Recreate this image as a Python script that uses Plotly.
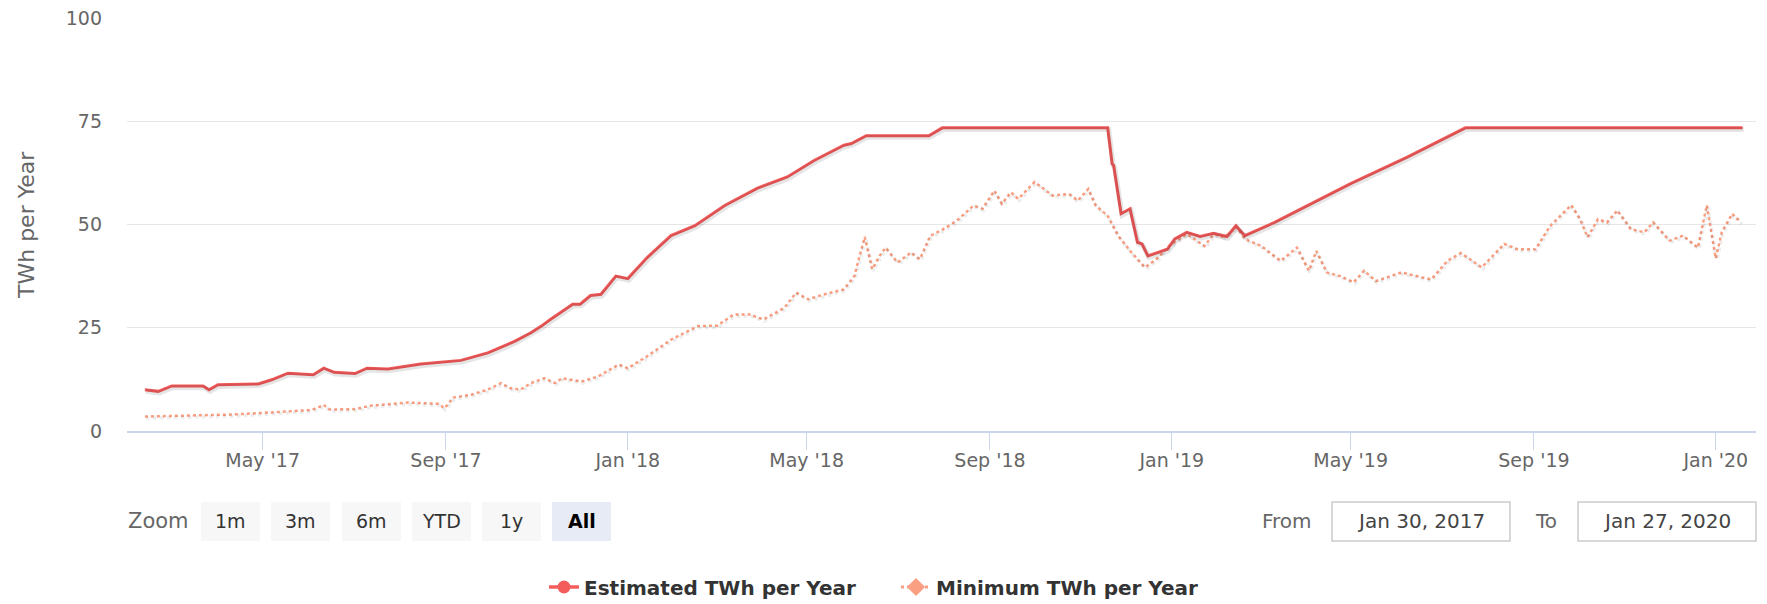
import plotly.graph_objects as go

# ---- data -------------------------------------------------------------
est_dates = [
    "2017-02-11", "2017-02-20", "2017-03-01", "2017-03-22", "2017-03-26", "2017-04-01",
    "2017-04-28", "2017-05-07", "2017-05-18", "2017-06-04", "2017-06-11", "2017-06-18",
    "2017-07-02", "2017-07-10", "2017-07-24", "2017-08-15", "2017-09-11", "2017-09-29",
    "2017-10-17", "2017-10-28", "2017-11-04", "2017-11-10", "2017-11-25", "2017-11-30",
    "2017-12-07", "2017-12-14", "2017-12-24", "2018-01-01", "2018-01-14", "2018-01-30",
    "2018-02-15", "2018-03-07", "2018-03-29", "2018-04-18", "2018-05-06", "2018-05-26",
    "2018-05-31", "2018-06-10", "2018-07-22", "2018-07-31", "2018-11-19", "2018-11-22",
    "2018-11-23", "2018-11-28", "2018-12-04", "2018-12-09", "2018-12-12", "2018-12-16",
    "2018-12-29", "2019-01-03", "2019-01-11", "2019-01-20", "2019-01-29", "2019-02-07",
    "2019-02-13", "2019-02-19", "2019-03-11", "2019-04-02", "2019-04-24", "2019-05-01",
    "2019-06-08", "2019-07-17", "2020-01-19",
]
est_values = [
    10.0, 9.6, 10.9, 10.9, 10.0, 11.2,
    11.4, 12.4, 14.0, 13.6, 15.2, 14.2,
    13.9, 15.2, 15.0, 16.2, 17.1, 18.9,
    21.7, 23.8, 25.4, 27.0, 30.7, 30.7,
    32.8, 33.1, 37.5, 36.9, 42.0, 47.3,
    49.7, 54.6, 58.8, 61.5, 65.5, 69.2,
    69.6, 71.5, 71.5, 73.4, 73.4, 64.7,
    64.3, 52.6, 53.8, 45.7, 45.3, 42.4,
    44.0, 46.5, 48.1, 47.1, 47.9, 47.1,
    49.7, 47.3, 50.5, 54.6, 58.6, 59.9,
    66.3, 73.4, 73.4,
]

min_dates = [
    "2017-02-11", "2017-03-12", "2017-04-11", "2017-05-07", "2017-05-26", "2017-06-03",
    "2017-06-11", "2017-06-15", "2017-07-02", "2017-07-12", "2017-08-06", "2017-08-27",
    "2017-08-31", "2017-09-06", "2017-09-18", "2017-09-29", "2017-10-08", "2017-10-14",
    "2017-10-21", "2017-10-28", "2017-11-06", "2017-11-13", "2017-11-18", "2017-12-01",
    "2017-12-12", "2017-12-26", "2018-01-01", "2018-01-14", "2018-01-30", "2018-02-17",
    "2018-03-02", "2018-03-13", "2018-03-24", "2018-04-02", "2018-04-16", "2018-04-24",
    "2018-05-02", "2018-05-13", "2018-05-26", "2018-06-02", "2018-06-09", "2018-06-14",
    "2018-06-19", "2018-06-23", "2018-07-01", "2018-07-10", "2018-07-16", "2018-07-23",
    "2018-07-30", "2018-08-10", "2018-08-21", "2018-08-27", "2018-09-04", "2018-09-09",
    "2018-09-15", "2018-09-20", "2018-10-01", "2018-10-13", "2018-10-24", "2018-10-30",
    "2018-11-06", "2018-11-11", "2018-11-19", "2018-11-26", "2018-12-05", "2018-12-14",
    "2018-12-23", "2018-12-30", "2019-01-11", "2019-01-23", "2019-01-29", "2019-02-05",
    "2019-02-14", "2019-02-19", "2019-03-02", "2019-03-15", "2019-03-26", "2019-04-03",
    "2019-04-08", "2019-04-15", "2019-04-24", "2019-05-03", "2019-05-10", "2019-05-18",
    "2019-06-04", "2019-06-24", "2019-07-05", "2019-07-14", "2019-07-28", "2019-08-12",
    "2019-08-21", "2019-09-02", "2019-09-12", "2019-09-26", "2019-10-02", "2019-10-07",
    "2019-10-14", "2019-10-20", "2019-10-27", "2019-11-05", "2019-11-14", "2019-11-20",
    "2019-12-01", "2019-12-10", "2019-12-20", "2019-12-26", "2019-12-29", "2020-01-01",
    "2020-01-05", "2020-01-12", "2020-01-18",
]
min_values = [
    3.5, 3.7, 4.0, 4.5, 4.8, 5.1,
    6.3, 5.2, 5.3, 6.1, 6.9, 6.6,
    5.5, 8.1, 8.8, 10.0, 11.6, 10.4,
    10.0, 11.6, 12.8, 11.6, 12.8, 12.0,
    13.2, 16.1, 15.2, 18.1, 22.1, 25.4,
    25.5, 28.2, 28.2, 27.0, 29.8, 33.5,
    31.9, 33.1, 34.3, 37.5, 47.0, 39.2,
    42.4, 44.4, 40.8, 43.2, 41.6, 47.3,
    48.5, 51.0, 54.6, 53.8, 58.2, 55.0,
    57.8, 56.2, 60.3, 57.0, 57.4, 55.8,
    58.6, 54.6, 52.1, 47.3, 43.2, 39.6,
    42.0, 44.8, 47.7, 44.8, 47.7, 46.9,
    49.3, 46.5, 44.8, 41.2, 44.4, 38.8,
    43.6, 38.4, 37.5, 36.0, 38.8, 36.3,
    38.4, 36.7, 41.2, 43.1, 39.6, 45.3,
    44.0, 44.0, 49.7, 54.7, 51.3, 46.9,
    51.3, 50.5, 53.4, 48.9, 48.1, 50.5,
    46.1, 47.3, 44.4, 54.7, 48.1, 41.8,
    48.1, 52.6, 50.5,
]

x_tick_dates = ["2017-05-01", "2017-09-01", "2018-01-01", "2018-05-01", "2018-09-01",
                "2019-01-01", "2019-05-01", "2019-09-01", "2020-01-01"]
x_tick_labels = ["May '17", "Sep '17", "Jan '18", "May '18", "Sep '18",
                 "Jan '19", "May '19", "Sep '19", "Jan '20"]
y_ticks = [0, 25, 50, 75, 100]

zoom_buttons = ["1m", "3m", "6m", "YTD", "1y", "All"]
range_from = "Jan 30, 2017"
range_to = "Jan 27, 2020"

# ---- style ------------------------------------------------------------
FONT = "DejaVu Sans"
RED = "#f45b5b"
SALMON = "#fb9f82"
W, H = 1767, 604
ML, MR, MT, MB = 127, 11, 18, 173
PW, PH = W - ML - MR, H - MT - MB


def px(x):
    return (x - ML) / PW


def py(y):
    return (H - MB - y) / PH


fig = go.Figure()

# soft drop shadow under the lines (overlay axes offset by ~1.5px)
fig.add_trace(go.Scatter(
    x=est_dates, y=est_values, mode="lines", xaxis="x2", yaxis="y2",
    line=dict(color="rgba(0,0,0,0.10)", width=5), hoverinfo="skip", showlegend=False,
))
fig.add_trace(go.Scatter(
    x=min_dates, y=min_values, mode="lines", xaxis="x2", yaxis="y2",
    line=dict(color="rgba(0,0,0,0.07)", width=3.5, dash="dot"), hoverinfo="skip",
    showlegend=False,
))

fig.add_trace(go.Scatter(
    x=min_dates, y=min_values, mode="lines", name="Minimum TWh per Year",
    line=dict(color=SALMON, width=2.5, dash="dot"), showlegend=False,
    legendgroup="min",
))
fig.add_trace(go.Scatter(
    x=est_dates, y=est_values, mode="lines", name="Estimated TWh per Year",
    line=dict(color=RED, width=3), showlegend=False, legendgroup="est",
))

# legend entries
fig.add_trace(go.Scatter(
    x=[None], y=[None], mode="lines+markers", name="Estimated TWh per Year",
    line=dict(color=RED, width=3.5), marker=dict(symbol="circle", size=13, color=RED),
    legendgroup="est",
))
fig.add_trace(go.Scatter(
    x=[None], y=[None], mode="lines+markers", name="Minimum TWh per Year",
    line=dict(color=SALMON, width=3, dash="dot"),
    marker=dict(symbol="diamond", size=14, color=SALMON),
    legendgroup="min",
))

x_range = ["2017-01-30", "2020-01-28"]
fig.update_layout(
    width=W, height=H,
    margin=dict(l=ML, r=MR, t=MT, b=MB, autoexpand=False),
    paper_bgcolor="white", plot_bgcolor="white",
    font=dict(family=FONT, color="#666666"),
    xaxis=dict(
        type="date", range=x_range, tickvals=x_tick_dates, ticktext=x_tick_labels,
        showgrid=False, zeroline=False, showline=True, linecolor="#ccd6eb", linewidth=1.5,
        ticks="outside", ticklen=17, tickwidth=1.2, tickcolor="#ccd6eb",
        ticklabelstandoff=-6,
        tickfont=dict(size=19, color="#666666", family=FONT),
    ),
    yaxis=dict(
        range=[0, 100], tickvals=y_ticks, showgrid=True, gridcolor="#e6e6e6", gridwidth=1,
        zeroline=False, showline=False, ticks="", ticklabelstandoff=24,
        tickfont=dict(size=19, color="#666666", family=FONT),
    ),
    xaxis2=dict(type="date", overlaying="x", visible=False,
                range=["2017-01-29 07:00", "2020-01-27 07:00"]),
    yaxis2=dict(overlaying="y", visible=False, range=[0.4, 100.4]),
    showlegend=True,
    legend=dict(
        orientation="h", x=px(544), xanchor="left", y=py(587), yanchor="middle",
        entrywidth=307, entrywidthmode="pixels",
        font=dict(size=20, color="#333333", family=FONT, weight="bold"),
        bgcolor="rgba(0,0,0,0)", itemclick=False, traceorder="normal",
    ),
    hovermode="x unified",
)

# y-axis title
fig.add_annotation(
    text="TWh per Year", xref="paper", yref="paper", x=px(26), y=py(225),
    xanchor="center", yanchor="middle", textangle=-90, showarrow=False,
    font=dict(size=22, color="#666666", family=FONT),
)

# range selector: zoom buttons
btn_left = [201, 271, 342, 412, 482, 552]
btn_w = 59
btn_top, btn_bot = 502, 541
fig.add_annotation(
    text="Zoom", xref="paper", yref="paper", x=px(126), y=py(521), xanchor="left",
    yanchor="middle", showarrow=False, font=dict(size=21, color="#666666", family=FONT),
)
for left, label in zip(btn_left, zoom_buttons):
    selected = label == "All"
    fig.add_shape(
        type="rect", xref="paper", yref="paper", x0=px(left), x1=px(left + btn_w),
        y0=py(btn_bot), y1=py(btn_top), line=dict(width=0),
        fillcolor="#e6ebf5" if selected else "#f7f7f7", layer="below",
    )
    fig.add_annotation(
        text=f"<b>{label}</b>" if selected else label, xref="paper", yref="paper",
        x=px(left + btn_w / 2), y=py(521), xanchor="center", yanchor="middle",
        showarrow=False,
        font=dict(size=19, color="#000000" if selected else "#333333", family=FONT),
    )

# range selector: date inputs
inputs = [("From", 1260, 1332, range_from), ("To", 1533, 1578, range_to)]
box_w = 178
for caption, cap_x, box_x, value in inputs:
    fig.add_annotation(
        text=caption, xref="paper", yref="paper", x=px(cap_x), y=py(521),
        xanchor="left", yanchor="middle", showarrow=False,
        font=dict(size=20, color="#666666", family=FONT),
    )
    fig.add_shape(
        type="rect", xref="paper", yref="paper", x0=px(box_x), x1=px(box_x + box_w),
        y0=py(btn_bot), y1=py(btn_top), line=dict(color="#cccccc", width=1.5),
        fillcolor="white",
    )
    fig.add_annotation(
        text=value, xref="paper", yref="paper", x=px(box_x + box_w / 2), y=py(521),
        xanchor="center", yanchor="middle", showarrow=False,
        font=dict(size=20, color="#444444", family=FONT),
    )

fig.write_html("out.html")
